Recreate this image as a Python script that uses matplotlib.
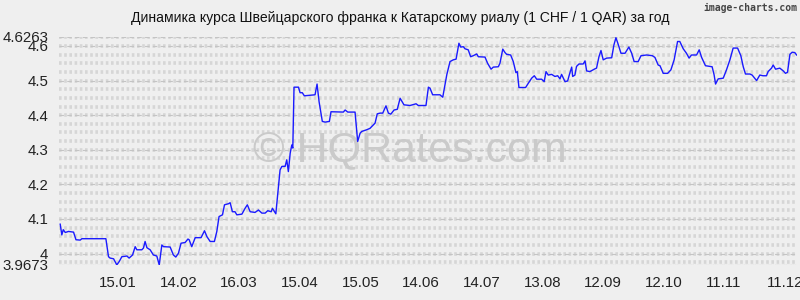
# plot.py
# CHF/QAR rate over one year, image-charts style

import numpy as np
from matplotlib import pyplot as plt

# day offset from the start of the period and rate (1 CHF in QAR)
days = [
    0.5, 1.3, 2.0, 3.0, 4.6, 7.1, 8.3, 10.4, 11.2, 23.1, 24.4, 25.2, 26.9, 28.5,
    29.7, 31.0, 33.5, 34.6, 36.3, 37.6, 38.4, 40.9, 41.7, 42.5, 43.4, 45.0, 46.6,
    48.3, 49.5, 50.8, 51.6, 54.9, 56.5, 57.7, 59.0, 60.3, 62.3, 63.7, 64.3, 65.6,
    67.3, 70.2, 71.9, 73.1, 74.7, 76.8, 78.0, 79.1, 80.8, 81.8, 83.7, 84.6, 85.7,
    87.0, 87.9, 90.4, 92.0, 93.1, 94.5, 96.9, 98.6, 100.3, 101.9, 103.2, 104.9,
    105.5, 107.2, 109.3, 110.2, 111.8, 112.6, 113.4, 114.3, 115.1, 115.6, 116.2,
    118.4, 119.2, 120.3, 121.3, 126.6, 127.6, 128.6, 130.2, 131.6, 133.7, 134.5,
    140.6, 141.5, 142.8, 146.4, 147.7, 148.9, 149.7, 152.2, 153.8, 156.3, 157.4,
    158.8, 160.1, 161.7, 162.9, 164.1, 165.7, 167.3, 168.7, 169.5, 170.6, 173.6,
    176.6, 177.7, 181.5, 182.7, 183.5, 184.8, 188.4, 189.8, 191.8, 193.4, 195.0,
    196.4, 197.8, 198.7, 200.0, 200.8, 202.4, 203.6, 204.9, 206.6, 207.4, 210.7,
    212.0, 213.7, 214.8, 217.3, 218.1, 219.5, 220.6, 221.4, 223.4, 224.7, 226.0,
    226.7, 227.5, 230.8, 232.1, 233.8, 235.1, 236.3, 238.7, 240.0, 240.9, 242.0,
    243.7, 245.3, 246.7, 247.8, 248.6, 250.3, 251.6, 252.4, 253.6, 254.1, 255.2,
    256.0, 257.2, 259.3, 260.2, 261.0, 262.6, 265.1, 265.9, 267.1, 268.1, 269.2,
    270.9, 273.4, 274.5, 275.5, 276.6, 278.0, 280.0, 281.9, 283.3, 284.5, 286.5,
    287.9, 290.7, 293.5, 294.8, 296.4, 297.3, 298.9, 301.1, 302.7, 304.3, 306.0,
    307.1, 308.8, 310.4, 311.7, 312.9, 315.4, 316.7, 317.9, 319.8, 323.1, 324.1,
    324.8, 326.1, 328.6, 330.2, 331.9, 333.5, 335.7, 337.3, 338.5, 339.6, 341.8,
    342.9, 345.1, 346.7, 348.3, 350.0, 350.8, 352.5, 353.3, 354.5, 356.6, 358.3,
    359.4, 360.4, 361.6, 362.7, 364.0, 364.9,
]
rates = [
    4.085, 4.054, 4.069, 4.061, 4.064, 4.062, 4.040, 4.039, 4.043, 4.043, 3.991,
    3.987, 3.985, 3.9673, 3.977, 3.991, 3.993, 3.987, 3.996, 4.020, 4.011, 4.011,
    4.016, 4.035, 4.017, 4.011, 3.996, 3.993, 3.9673, 4.025, 4.020, 4.019, 3.996,
    3.990, 4.001, 4.030, 4.032, 4.042, 4.040, 4.020, 4.046, 4.046, 4.066, 4.049,
    4.035, 4.035, 4.064, 4.107, 4.112, 4.141, 4.144, 4.147, 4.121, 4.121, 4.112,
    4.114, 4.131, 4.141, 4.121, 4.119, 4.126, 4.117, 4.117, 4.124, 4.121, 4.131,
    4.115, 4.242, 4.252, 4.252, 4.271, 4.237, 4.290, 4.314, 4.305, 4.481, 4.481,
    4.465, 4.465, 4.456, 4.459, 4.490, 4.439, 4.382, 4.380, 4.382, 4.410, 4.409,
    4.415, 4.409, 4.409, 4.324, 4.348, 4.353, 4.358, 4.362, 4.377, 4.404, 4.406,
    4.406, 4.427, 4.406, 4.403, 4.415, 4.417, 4.449, 4.441, 4.430, 4.428, 4.433,
    4.428, 4.428, 4.481, 4.478, 4.459, 4.459, 4.452, 4.517, 4.555, 4.560, 4.562,
    4.608, 4.597, 4.598, 4.592, 4.589, 4.569, 4.572, 4.577, 4.569, 4.568, 4.550,
    4.533, 4.539, 4.540, 4.550, 4.591, 4.581, 4.576, 4.574, 4.555, 4.523, 4.526,
    4.480, 4.480, 4.492, 4.507, 4.514, 4.504, 4.504, 4.497, 4.526, 4.516, 4.518,
    4.512, 4.514, 4.505, 4.518, 4.497, 4.499, 4.516, 4.539, 4.512, 4.516, 4.541,
    4.548, 4.548, 4.557, 4.528, 4.526, 4.534, 4.536, 4.569, 4.587, 4.560, 4.565,
    4.566, 4.603, 4.624, 4.605, 4.579, 4.579, 4.597, 4.579, 4.555, 4.555, 4.572,
    4.574, 4.572, 4.567, 4.545, 4.543, 4.521, 4.521, 4.531, 4.560, 4.613, 4.613,
    4.592, 4.579, 4.565, 4.574, 4.574, 4.589, 4.567, 4.543, 4.540, 4.516, 4.490,
    4.505, 4.507, 4.531, 4.560, 4.594, 4.594, 4.572, 4.540, 4.519, 4.519, 4.516,
    4.500, 4.516, 4.514, 4.514, 4.526, 4.536, 4.545, 4.533, 4.536, 4.528, 4.521,
    4.524, 4.576, 4.582, 4.581, 4.574,
]

tick_days = [29, 59, 89, 119, 149, 179, 209, 239, 269, 299, 329, 359]
tick_labels = ["15.01", "14.02", "16.03", "15.04", "15.05", "14.06",
               "14.07", "13.08", "12.09", "12.10", "11.11", "11.12"]
y_min, y_max = 3.9673, 4.6263
y_ticks = [3.9673, 4.0, 4.1, 4.2, 4.3, 4.4, 4.5, 4.6, 4.6263]
y_labels = ["3.9673", "4", "4.1", "4.2", "4.3", "4.4", "4.5", "4.6", "4.6263"]

title = "Динамика курса Швейцарского франка к Катарскому риалу (1 CHF / 1 QAR) за год"

bg = "#efefef"
plt.rcParams["font.family"] = ["Liberation Sans", "DejaVu Sans"]

fig = plt.figure(figsize=(8, 3), dpi=100, facecolor=bg)
ax = fig.add_axes([0.074, 0.117, 0.922, 0.76])
ax.set_facecolor(bg)

# background texture: rows of short vertical bars
for yv in np.arange(3.975, 4.63, 0.025):
    ax.axhline(yv, color="#d6d6d6", lw=2.6, dashes=(0.72, 0.72), zorder=0)
for yv in y_ticks:
    ax.axhline(yv, color="#c4c4c4", lw=0.8, dashes=(4, 3), zorder=1)
ax.axhline(y_min, color="#bdbdbd", lw=0.8, dashes=(1, 1), zorder=1)

# watermark
ax.text(0.476, 0.505, "\u00a9 HQRates.com", transform=ax.transAxes,
        ha="center", va="center", fontsize=31, color="#cacaca", zorder=2)

ax.plot(days, rates, color="#1a1aff", lw=1.0, zorder=3)

ax.set_xlim(0, 365)
ax.set_ylim(y_min, y_max)
ax.set_xticks(tick_days)
ax.set_xticklabels(tick_labels)
ax.set_yticks(y_ticks)
ax.set_yticklabels(y_labels)
ax.tick_params(axis="both", labelsize=10.8, colors="#222222", length=0)
ax.tick_params(axis="y", pad=8)
ax.tick_params(axis="x", pad=8)
for s in ax.spines.values():
    s.set_visible(False)

fig.text(0.5, 0.94, title, ha="center", va="center", fontsize=10.1, color="#111111")
fig.text(0.997, 0.975, "image-charts.com", ha="right", va="center",
         fontsize=7, color="#444444", family="DejaVu Sans Mono", weight="bold")

plt.savefig("out.png", dpi=100, facecolor=bg)
